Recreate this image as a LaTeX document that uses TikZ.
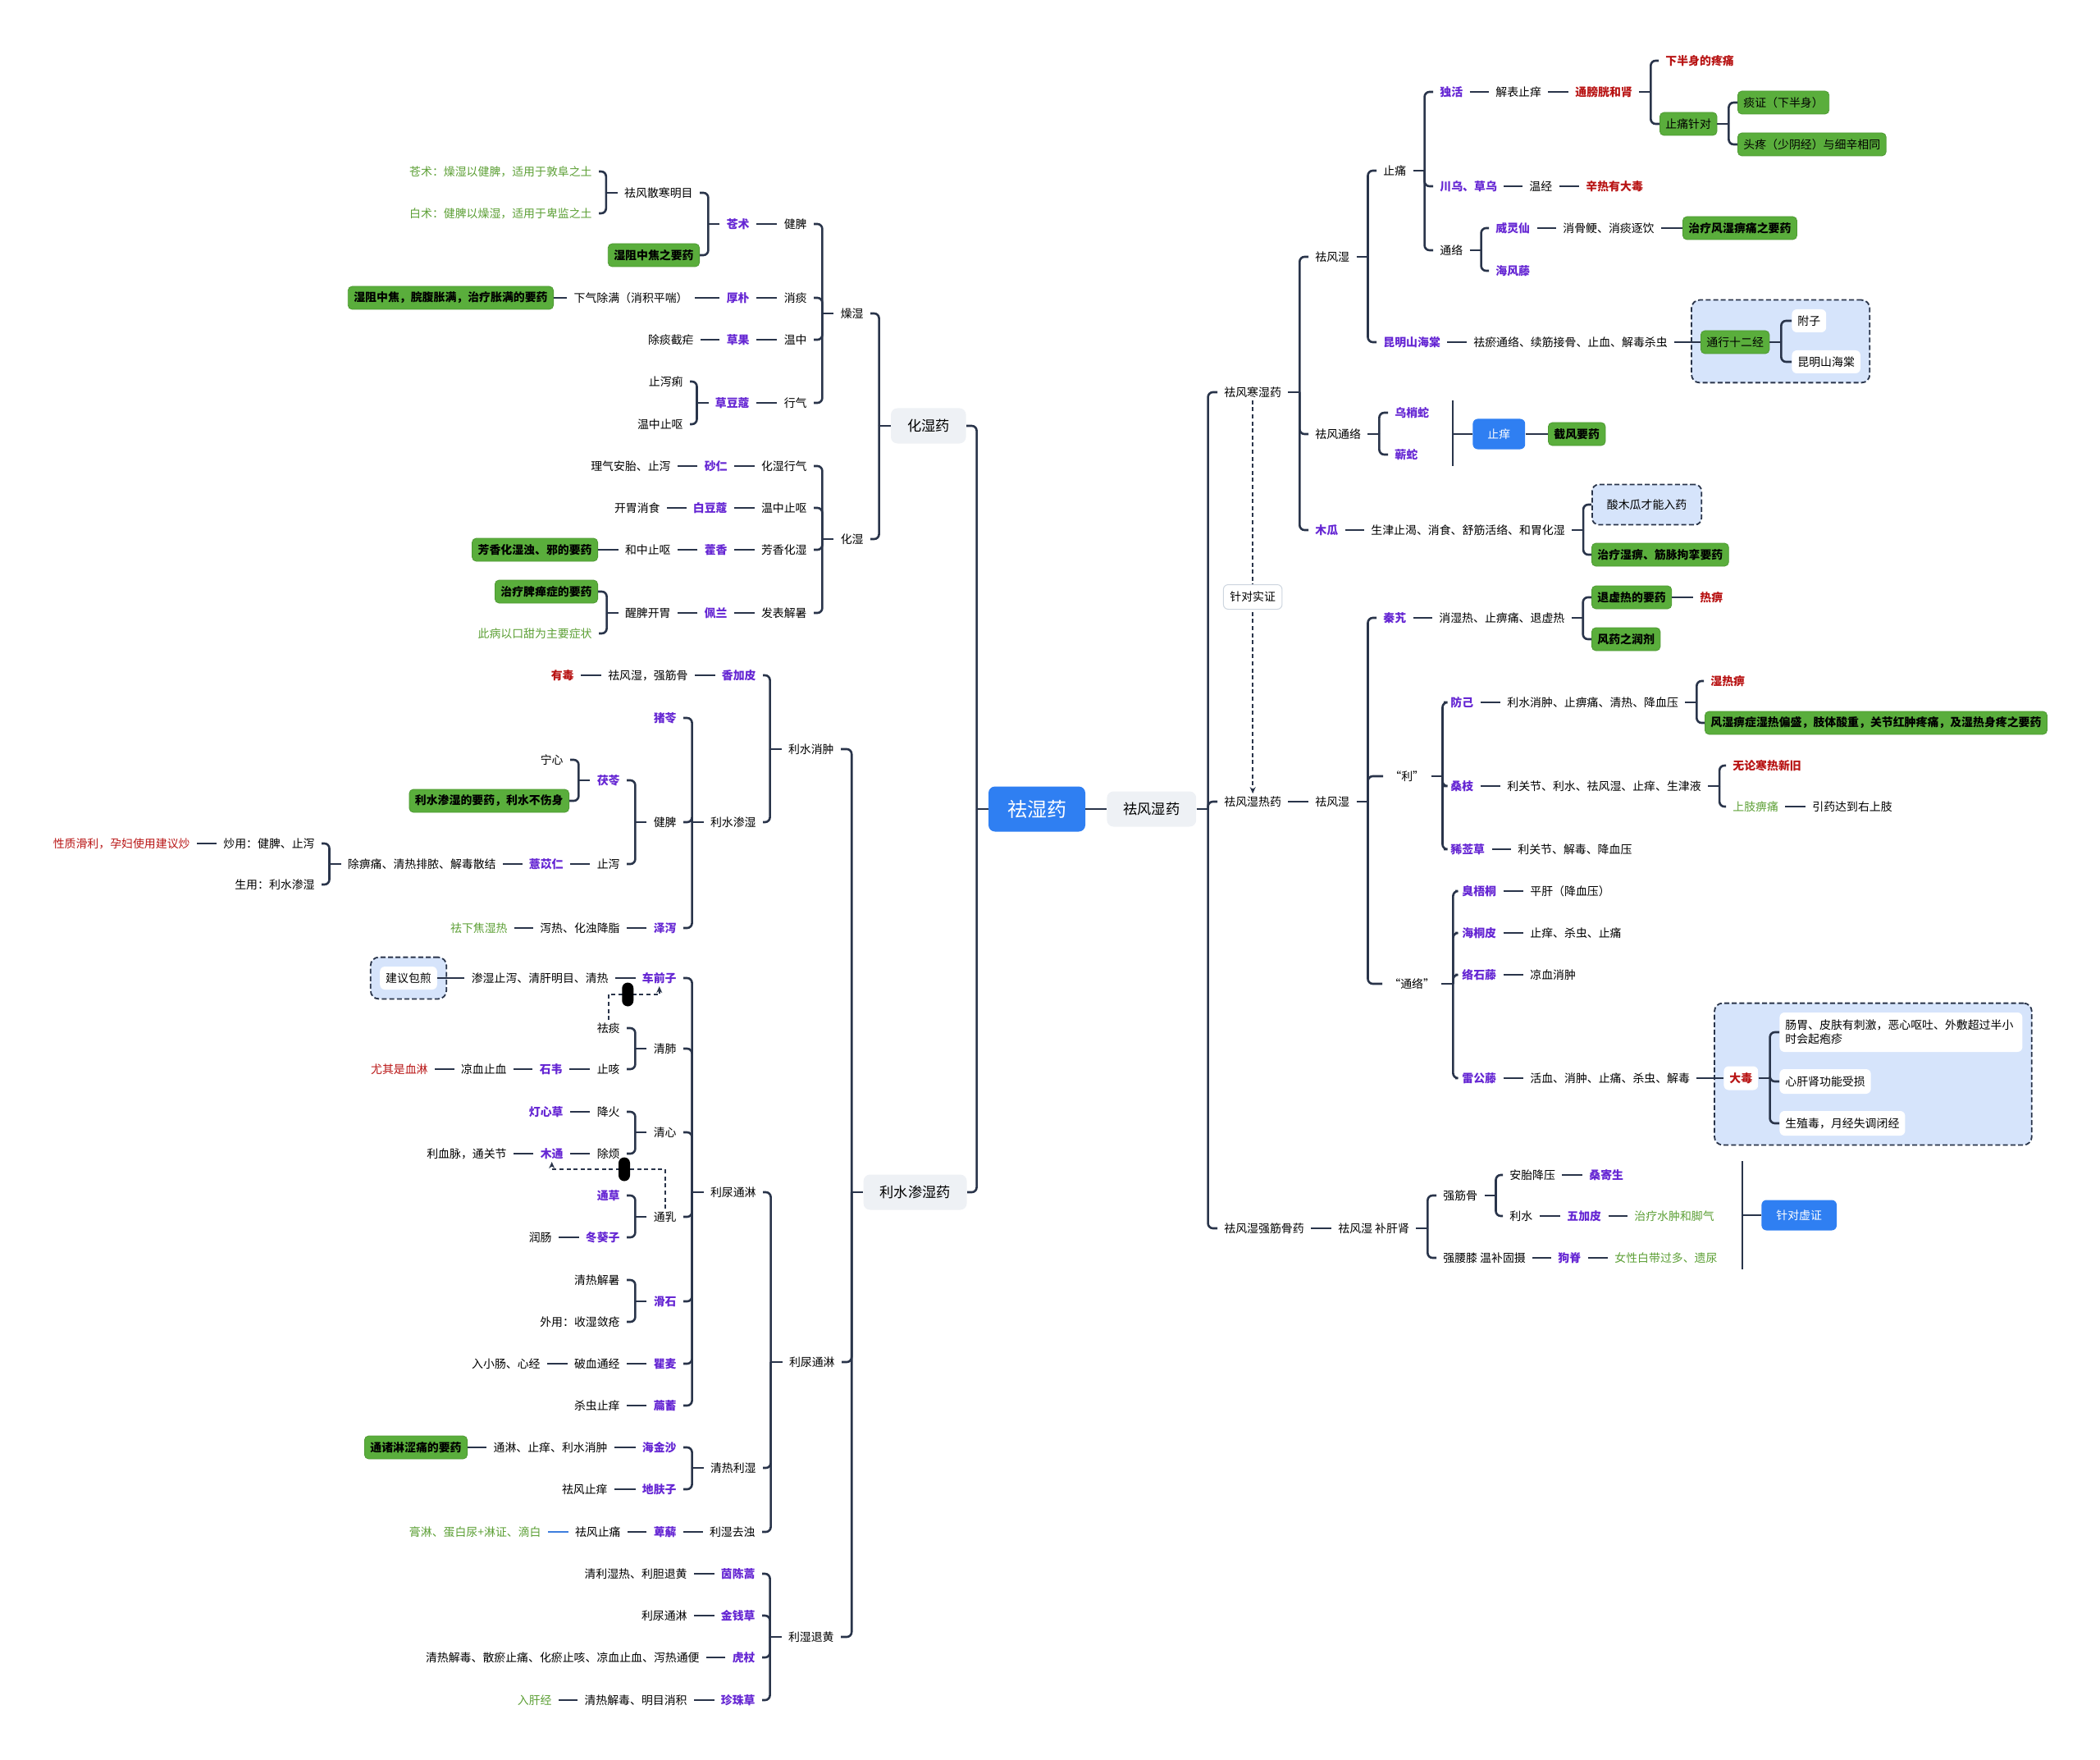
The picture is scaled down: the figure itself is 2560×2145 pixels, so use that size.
\documentclass[tikz,border=0pt]{standalone}
\usepackage{fontspec}
\setmainfont{Noto Sans CJK SC}
\usetikzlibrary{arrows.meta,fit,backgrounds}

\definecolor{linec}{HTML}{29344A}
\definecolor{drugc}{HTML}{6526D3}
\definecolor{warnc}{HTML}{B81414}
\definecolor{notec}{HTML}{5C9F35}
\definecolor{boxg}{HTML}{5AAE3C}
\definecolor{boxgd}{HTML}{4E9A33}
\definecolor{bluec}{HTML}{2F7FF2}
\definecolor{greyc}{HTML}{EEF1F5}
\definecolor{dfill}{HTML}{D6E4FB}
\definecolor{lblc}{HTML}{CDD5DF}
\definecolor{linkb}{HTML}{3D7EDE}

\newcommand{\fs}{\fontsize{6.95pt}{8.5pt}\selectfont}

\tikzset{
  every node/.style={font=\fs, inner xsep=4pt, inner ysep=1.5pt},
  lside/.style={anchor=east, xshift=4pt},
  rside/.style={anchor=west, xshift=-4pt},
  lbox/.style={anchor=east},
  rbox/.style={anchor=west},
  drug/.style={text=drugc, font=\fs\bfseries},
  warn/.style={text=warnc, font=\fs\bfseries},
  warnr/.style={text=warnc},
  note/.style={text=notec},
  gbox/.style={fill=boxg, draw=boxgd, line width=0.4pt, rounded corners=2.5pt, inner xsep=3.5pt, minimum height=14pt, font=\fs\bfseries},
  gboxn/.style={gbox, font=\fs},
  bbox/.style={fill=bluec, text=white, rounded corners=3pt, inner xsep=9pt, minimum height=18.5pt},
  greybox/.style={fill=greyc, rounded corners=4pt, inner xsep=10pt, minimum height=21.5pt, font=\fontsize{8.6pt}{10pt}\selectfont},
  rootbox/.style={fill=bluec, text=white, rounded corners=4pt, minimum width=59pt, minimum height=27.5pt, font=\fontsize{12pt}{14pt}\selectfont},
  wbox/.style={fill=white, rounded corners=3pt, inner xsep=3.5pt, minimum height=14pt},
  dnode/.style={fill=dfill, draw=linec, dash pattern=on 3pt off 1.6pt, line width=0.9pt, rounded corners=4pt, inner xsep=9pt, minimum height=24.5pt},
  dgroup/.style={fill=dfill, draw=linec, dash pattern=on 3pt off 1.6pt, line width=0.9pt, rounded corners=5pt, inner sep=5.5pt},
  lbl/.style={fill=white, draw=lblc, line width=0.5pt, rounded corners=3pt, minimum height=15pt, solid},
  pill/.style={fill=black, rounded corners=3.5pt, minimum width=7pt, minimum height=14.5pt, inner sep=0pt, solid},
  link/.style={draw=linec, line width=1.3pt},
  br/.style={link, rounded corners=3pt},
  rel/.style={draw=linec, line width=0.8pt, dash pattern=on 2.5pt off 1.8pt, -{Stealth[length=4pt,width=3.5pt]}},
}

\begin{document}
\begin{tikzpicture}[x=0.5pt,y=-0.5pt]
    \useasboundingbox (0,0) rectangle (2560,2145);

    % Root and main branches
    \node[rootbox] (qsy) at (1264,986) {祛湿药};
    \node[greybox, rbox] (qfsy) at (1349,986) {祛风湿药};
    \node[greybox, lbox] (hsy) at (1178,519) {化湿药};
    \node[greybox, lbox] (lsssy) at (1179,1453) {利水渗湿药};

    % Huashi: zaoshi
    \node[lside, note] (cz1) at (722,209) {苍术：燥湿以健脾，适用于敦阜之土};
    \node[lside, note] (bz1) at (722,260) {白术：健脾以燥湿，适用于卑监之土};
    \node[lside] (qfsh) at (845,235) {祛风散寒明目};
    \node[gbox, lbox] (szzj) at (853,311) {湿阻中焦之要药};
    \node[lside, drug] (cangzhu) at (914,273) {苍术};
    \node[lside] (jianpi1) at (984,273) {健脾};
    \node[lside] (xiaotan) at (984,363) {消痰};
    \node[lside, drug] (houpo) at (914,363) {厚朴};
    \node[lside] (xqcm) at (839,363) {下气除满（消积平喘）};
    \node[gbox, lbox] (szzj2) at (675,363) {湿阻中焦，脘腹胀满，治疗胀满的要药};
    \node[lside] (wenzhong) at (984,414) {温中};
    \node[lside, drug] (caoguo) at (914,414) {草果};
    \node[lside] (ctjn) at (846,414) {除痰截疟};
    \node[lside] (xingqi) at (984,491) {行气};
    \node[lside, drug] (cdk) at (914,491) {草豆蔻};
    \node[lside] (zxl) at (833,465) {止泻痢};
    \node[lside] (wzzo1) at (833,517) {温中止呕};
    \node[lside] (zaoshi) at (1053,382) {燥湿};

    % Huashi: huashi
    \node[lside] (hsxq) at (984,568) {化湿行气};
    \node[lside, drug] (sharen) at (887,568) {砂仁};
    \node[lside] (lqat) at (818,568) {理气安胎、止泻};
    \node[lside] (wzzo2) at (984,619) {温中止呕};
    \node[lside, drug] (bdk) at (887,619) {白豆蔻};
    \node[lside] (kwxs) at (805,619) {开胃消食};
    \node[lside] (fxhs) at (984,670) {芳香化湿};
    \node[lside, drug] (huoxiang) at (887,670) {藿香};
    \node[lside] (hzzo) at (818,670) {和中止呕};
    \node[gbox, lbox] (fxyy) at (729,670) {芳香化湿浊、邪的要药};
    \node[lside] (fbjs) at (984,747) {发表解暑};
    \node[lside, drug] (peilan) at (887,747) {佩兰};
    \node[lside] (xpkw) at (818,747) {醒脾开胃};
    \node[gbox, lbox] (zlpd) at (729,721) {治疗脾瘅症的要药};
    \node[lside, note] (cbyk) at (722,772) {此病以口甜为主要症状};
    \node[lside] (huashi) at (1053,657) {化湿};

    % Lishui: lishui xiaozhong
    \node[lside, warn] (youdu) at (700,823) {有毒};
    \node[lside] (qfsj) at (839,823) {祛风湿，强筋骨};
    \node[lside, drug] (xjp) at (922,823) {香加皮};
    \node[lside] (lsxz) at (1017,913) {利水消肿};
    \node[lside] (lssh) at (922,1002) {利水渗湿};
    \node[lside, drug] (zhuling) at (825,875) {猪苓};
    \node[lside] (jianpi2) at (825,1002) {健脾};
    \node[lside, drug] (zexie) at (825,1131) {泽泻};
    \node[lside] (xrhz) at (756,1131) {泻热、化浊降脂};
    \node[lside, note] (qxjs) at (619,1131) {祛下焦湿热};
    \node[lside, drug] (fuling) at (756,951) {茯苓};
    \node[lside] (zhixie) at (756,1053) {止泻};
    \node[lside] (ningxin) at (687,926) {宁心};
    \node[gbox, lbox] (lsys) at (694,976) {利水渗湿的要药，利水不伤身};
    \node[lside, drug] (yyr) at (687,1053) {薏苡仁};
    \node[lside] (cbt) at (605,1053) {除痹痛、清热排脓、解毒散结};
    \node[lside] (chaoyong) at (384,1028) {炒用：健脾、止泻};
    \node[lside] (shengyong) at (384,1078) {生用：利水渗湿};
    \node[lside, warnr] (xzhl) at (232,1028) {性质滑利，孕妇使用建议炒};

    % Lishui: liniao tonglin
    \node[wbox] (jybj) at (498,1192) {建议包煎};
    \node[lside] (sszx) at (742,1192) {渗湿止泻、清肝明目、清热};
    \node[lside, drug] (cqz) at (825,1192) {车前子};
    \node[lside] (qutan) at (756,1253) {祛痰};
    \node[lside] (zhike) at (756,1303) {止咳};
    \node[lside] (qingfei) at (825,1278) {清肺};
    \node[lside, drug] (shiwei) at (686,1303) {石韦};
    \node[lside] (lxzx) at (618,1303) {凉血止血};
    \node[lside, warnr] (yqsx) at (522,1303) {尤其是血淋};
    \node[lside] (jianghuo) at (756,1355) {降火};
    \node[lside, drug] (dxc) at (687,1355) {灯心草};
    \node[lside] (chufan) at (756,1406) {除烦};
    \node[lside, drug] (mutong) at (687,1406) {木通};
    \node[lside] (lxm) at (618,1406) {利血脉，通关节};
    \node[lside] (qingxin) at (825,1380) {清心};
    \node[lside, drug] (tongcao) at (756,1457) {通草};
    \node[lside, drug] (dkz) at (756,1508) {冬葵子};
    \node[lside] (runchang) at (673,1508) {润肠};
    \node[lside] (tongru) at (825,1483) {通乳};
    \node[lside] (ltl1) at (922,1453) {利尿通淋};
    \node[lside] (qrjs) at (756,1560) {清热解暑};
    \node[lside] (wysc) at (756,1611) {外用：收湿敛疮};
    \node[lside, drug] (huashi2) at (825,1586) {滑石};
    \node[lside, drug] (qumai) at (825,1662) {瞿麦};
    \node[lside] (pxtj) at (756,1662) {破血通经};
    \node[lside] (rxc) at (659,1662) {入小肠、心经};
    \node[lside, drug] (bianxu) at (825,1713) {萹蓄};
    \node[lside] (sczy) at (756,1713) {杀虫止痒};
    \node[lside, drug] (hjs) at (825,1764) {海金沙};
    \node[lside] (tlzy) at (741,1764) {通淋、止痒、利水消肿};
    \node[gbox, lbox] (tzlsy) at (570,1764) {通诸淋涩痛的要药};
    \node[lside, drug] (dfz) at (825,1815) {地肤子};
    \node[lside] (qfzy) at (741,1815) {祛风止痒};
    \node[lside] (qrls) at (922,1789) {清热利湿};
    \node[lside] (ltl2) at (1018,1660) {利尿通淋};
    \node[lside] (lsqz) at (921,1867) {利湿去浊};
    \node[lside, drug] (bixie) at (825,1867) {萆薢};
    \node[lside] (qfzt) at (757,1867) {祛风止痛};
    \node[lside, note] (glnb) at (660,1867) {膏淋、蛋白尿+淋证、滴白};

    % Lishui: lishi tuihuang
    \node[lside] (lstd) at (1017,1995) {利湿退黄};
    \node[lside, drug] (ycg) at (921,1918) {茵陈蒿};
    \node[lside] (qlsr) at (838,1918) {清利湿热、利胆退黄};
    \node[lside, drug] (jqc) at (921,1969) {金钱草};
    \node[lside] (ltl3) at (838,1969) {利尿通淋};
    \node[lside, drug] (huzhang) at (921,2020) {虎杖};
    \node[lside] (qrjd) at (853,2020) {清热解毒、散瘀止痛、化瘀止咳、凉血止血、泻热通便};
    \node[lside, drug] (zzc) at (921,2072) {珍珠草};
    \node[lside] (qrmm) at (838,2072) {清热解毒、明目消积};
    \node[lside, note] (rgj) at (673,2072) {入肝经};

    % Qufengshi: fenghan
    \node[rside] (qfhsy) at (1492,478) {祛风寒湿药};
    \node[rside] (qfs1) at (1603,313) {祛风湿};
    \node[rside] (zhitong) at (1686,208) {止痛};
    \node[rside, drug] (duhuo) at (1755,112) {独活};
    \node[rside] (jbzy) at (1823,112) {解表止痒};
    \node[rside, warn] (tpgh) at (1920,112) {通膀胱和肾};
    \node[rside, warn] (xbs) at (2030,74) {下半身的疼痛};
    \node[gboxn, rbox] (ztzd) at (2023,151) {止痛针对};
    \node[gboxn, rbox] (tzxbs) at (2118,125) {痰证（下半身）};
    \node[gboxn, rbox] (ttsy) at (2118,176) {头疼（少阴经）与细辛相同};
    \node[rside, drug] (cwcw) at (1755,227) {川乌、草乌};
    \node[rside] (wenjing) at (1864,227) {温经};
    \node[rside, warn] (xrydd) at (1933,227) {辛热有大毒};
    \node[rside] (tongluo1) at (1755,305) {通络};
    \node[rside, drug] (wlx) at (1823,278) {威灵仙};
    \node[rside] (xggy) at (1905,278) {消骨鲠、消痰逐饮};
    \node[gbox, rbox] (zlfs) at (2051,278) {治疗风湿痹痛之要药};
    \node[rside, drug] (hft) at (1823,330) {海风藤};
    \node[rside, drug] (kmsht) at (1686,417) {昆明山海棠};
    \node[rside] (qytl) at (1796,417) {祛瘀通络、续筋接骨、止血、解毒杀虫};
    \node[gboxn, rbox] (txsej) at (2073,417) {通行十二经};
    \node[wbox, rbox] (fuzi) at (2184,391) {附子};
    \node[wbox, rbox] (kmsht2) at (2184,441) {昆明山海棠};
    \node[rside] (qftl) at (1603,529) {祛风通络};
    \node[rside, drug] (wss) at (1700,503) {乌梢蛇};
    \node[rside, drug] (qishe) at (1700,554) {蕲蛇};
    \node[bbox, rbox] (zhiyang) at (1795,529) {止痒};
    \node[gbox, rbox] (jfyy) at (1887,529) {截风要药};
    \node[rside, drug] (mugua) at (1603,646) {木瓜};
    \node[rside] (sjzk) at (1671,646) {生津止渴、消食、舒筋活络、和胃化湿};
    \node[dnode, rbox] (smg) at (1940,615) {酸木瓜才能入药};
    \node[gbox, rbox] (zlsb) at (1940,676) {治疗湿痹、筋脉拘挛要药};

    % Qufengshi: shire
    \node[rside] (qfsry) at (1492,977) {祛风湿热药};
    \node[rside] (qfs2) at (1603,977) {祛风湿};
    \node[rside, drug] (qinjiao) at (1686,753) {秦艽};
    \node[rside] (xsr) at (1754,753) {消湿热、止痹痛、退虚热};
    \node[gbox, rbox] (txr) at (1940,728) {退虚热的要药};
    \node[rside, warn] (rebi) at (2072,728) {热痹};
    \node[gbox, rbox] (fyzr) at (1940,779) {风药之润剂};
    \node[rside] (li) at (1694,946) {“利”};
    \node[rside, drug] (fangji) at (1768,856) {防己};
    \node[rside] (lsxz2) at (1837,856) {利水消肿、止痹痛、清热、降血压};
    \node[rside, warn] (srb) at (2085,830) {湿热痹};
    \node[gbox, rbox] (fsbz) at (2078,881) {风湿痹症湿热偏盛，肢体酸重，关节红肿疼痛，及湿热身疼之要药};
    \node[rside, drug] (sangzhi) at (1768,958) {桑枝};
    \node[rside] (lgj) at (1837,958) {利关节、利水、祛风湿、止痒、生津液};
    \node[rside, warn] (wlhr) at (2112,933) {无论寒热新旧};
    \node[rside, note] (szbt) at (2112,983) {上肢痹痛};
    \node[rside] (yydd) at (2209,983) {引药达到右上肢};
    \node[rside, drug] (xxc) at (1768,1035) {豨莶草};
    \node[rside] (lgj2) at (1850,1035) {利关节、解毒、降血压};
    \node[rside] (tongluo2) at (1693,1199) {“通络”};
    \node[rside, drug] (cwt) at (1782,1086) {臭梧桐};
    \node[rside] (pg) at (1865,1086) {平肝（降血压）};
    \node[rside, drug] (htp) at (1782,1137) {海桐皮};
    \node[rside] (zysc) at (1865,1137) {止痒、杀虫、止痛};
    \node[rside, drug] (lst) at (1782,1188) {络石藤};
    \node[rside] (lxxz) at (1865,1188) {凉血消肿};
    \node[rside, drug] (lgt) at (1782,1314) {雷公藤};
    \node[rside] (hxxz) at (1865,1314) {活血、消肿、止痛、杀虫、解毒};
    \node[wbox, rbox, warn, minimum height=14.5pt] (dadu) at (2101,1314) {大毒};
    \node[wbox, rbox, text width=141pt, align=left, minimum height=24pt] (cwpf) at (2169,1258) {肠胃、皮肤有刺激，恶心呕吐、外敷超过半小\\时会起疱疹};
    \node[wbox, rbox, minimum height=15pt] (cgs) at (2169,1318) {心肝肾功能受损};
    \node[wbox, rbox, minimum height=15pt] (szd) at (2169,1369) {生殖毒，月经失调闭经};

    % Qufengshi: qiang jingu
    \node[rside] (qfsq) at (1492,1497) {祛风湿强筋骨药};
    \node[rside] (qfbg) at (1631,1497) {祛风湿 补肝肾};
    \node[rside] (qjg) at (1759,1457) {强筋骨};
    \node[rside] (atjy) at (1840,1432) {安胎降压};
    \node[rside, drug] (sjs) at (1937,1432) {桑寄生};
    \node[rside] (lishui) at (1840,1482) {利水};
    \node[rside, drug] (wjp) at (1910,1482) {五加皮};
    \node[rside, note] (zlsz) at (1992,1482) {治疗水肿和脚气};
    \node[rside] (qyx) at (1759,1533) {强腰膝 温补固摄};
    \node[rside, drug] (gouji) at (1899,1533) {狗脊};
    \node[rside, note] (nxbd) at (1968,1533) {女性白带过多、遗尿};
    \node[bbox, rbox] (zdxz) at (2147,1481) {针对虚证};

    % Dashed groups
    \begin{scope}[on background layer]
        \node[dgroup, fit=(txsej)(fuzi)(kmsht2)] (grp1) {};
        \node[dgroup, fit=(dadu)(cwpf)(cgs)(szd)] (grp2) {};
        \node[dgroup, fit=(jybj)] (grp3) {};
    \end{scope}

    % Root connectors
    \draw[link] (qsy.east) -- (qfsy.west);
    \draw[link] (qsy.west) -- ++(-7pt,0);
    \foreach \c in {hsy,lsssy} \draw[br] ([xshift=-7pt]qsy.west) |- (\c.east);

    % Left branch: huashi yao
    \draw[link] (hsy.west) -- ++(-7pt,0);
    \foreach \c in {zaoshi,huashi} \draw[br] ([xshift=-7pt]hsy.west) |- (\c.east);
    \draw[link] (zaoshi.west) -- ++(-7pt,0);
    \foreach \c in {jianpi1,xiaotan,wenzhong,xingqi} \draw[br] ([xshift=-7pt]zaoshi.west) |- (\c.east);
    \draw[link] (jianpi1.west) -- (cangzhu.east);
    \draw[link] (cangzhu.west) -- ++(-7pt,0);
    \foreach \c in {qfsh,szzj} \draw[br] ([xshift=-7pt]cangzhu.west) |- (\c.east);
    \draw[link] (qfsh.west) -- ++(-7pt,0);
    \foreach \c in {cz1,bz1} \draw[br] ([xshift=-7pt]qfsh.west) |- (\c.east);
    \draw[link] (xiaotan.west) -- (houpo.east);
    \draw[link] (houpo.west) -- (xqcm.east);
    \draw[link] (xqcm.west) -- (szzj2.east);
    \draw[link] (wenzhong.west) -- (caoguo.east);
    \draw[link] (caoguo.west) -- (ctjn.east);
    \draw[link] (xingqi.west) -- (cdk.east);
    \draw[link] (cdk.west) -- ++(-7pt,0);
    \foreach \c in {zxl,wzzo1} \draw[br] ([xshift=-7pt]cdk.west) |- (\c.east);
    \draw[link] (huashi.west) -- ++(-7pt,0);
    \foreach \c in {hsxq,wzzo2,fxhs,fbjs} \draw[br] ([xshift=-7pt]huashi.west) |- (\c.east);
    \draw[link] (hsxq.west) -- (sharen.east);
    \draw[link] (sharen.west) -- (lqat.east);
    \draw[link] (wzzo2.west) -- (bdk.east);
    \draw[link] (bdk.west) -- (kwxs.east);
    \draw[link] (fxhs.west) -- (huoxiang.east);
    \draw[link] (huoxiang.west) -- (hzzo.east);
    \draw[link] (hzzo.west) -- (fxyy.east);
    \draw[link] (fbjs.west) -- (peilan.east);
    \draw[link] (peilan.west) -- (xpkw.east);
    \draw[link] (xpkw.west) -- ++(-7pt,0);
    \foreach \c in {zlpd,cbyk} \draw[br] ([xshift=-7pt]xpkw.west) |- (\c.east);

    % Left branch: lishui shenshi yao
    \draw[link] (lsssy.west) -- ++(-7pt,0);
    \foreach \c in {lsxz,ltl2,lstd} \draw[br] ([xshift=-7pt]lsssy.west) |- (\c.east);
    \draw[link] (lsxz.west) -- ++(-7pt,0);
    \foreach \c in {xjp,lssh} \draw[br] ([xshift=-7pt]lsxz.west) |- (\c.east);
    \draw[link] (xjp.west) -- (qfsj.east);
    \draw[link] (qfsj.west) -- (youdu.east);
    \draw[link] (lssh.west) -- ++(-7pt,0);
    \foreach \c in {zhuling,jianpi2,zexie} \draw[br] ([xshift=-7pt]lssh.west) |- (\c.east);
    \draw[link] (jianpi2.west) -- ++(-7pt,0);
    \foreach \c in {fuling,zhixie} \draw[br] ([xshift=-7pt]jianpi2.west) |- (\c.east);
    \draw[link] (fuling.west) -- ++(-7pt,0);
    \foreach \c in {ningxin,lsys} \draw[br] ([xshift=-7pt]fuling.west) |- (\c.east);
    \draw[link] (zhixie.west) -- (yyr.east);
    \draw[link] (yyr.west) -- (cbt.east);
    \draw[link] (cbt.west) -- ++(-7pt,0);
    \foreach \c in {chaoyong,shengyong} \draw[br] ([xshift=-7pt]cbt.west) |- (\c.east);
    \draw[link] (chaoyong.west) -- (xzhl.east);
    \draw[link] (zexie.west) -- (xrhz.east);
    \draw[link] (xrhz.west) -- (qxjs.east);

    \draw[link] (ltl2.west) -- ++(-7pt,0);
    \foreach \c in {ltl1,qrls,lsqz} \draw[br] ([xshift=-7pt]ltl2.west) |- (\c.east);
    \draw[link] (ltl1.west) -- ++(-7pt,0);
    \foreach \c in {cqz,qingfei,qingxin,tongru,huashi2,qumai,bianxu} \draw[br] ([xshift=-7pt]ltl1.west) |- (\c.east);
    \draw[link] (cqz.west) -- (sszx.east);
    \draw[link] (sszx.west) -- (jybj.east);
    \draw[link] (qingfei.west) -- ++(-7pt,0);
    \foreach \c in {qutan,zhike} \draw[br] ([xshift=-7pt]qingfei.west) |- (\c.east);
    \draw[link] (zhike.west) -- (shiwei.east);
    \draw[link] (shiwei.west) -- (lxzx.east);
    \draw[link] (lxzx.west) -- (yqsx.east);
    \draw[link] (qingxin.west) -- ++(-7pt,0);
    \foreach \c in {jianghuo,chufan} \draw[br] ([xshift=-7pt]qingxin.west) |- (\c.east);
    \draw[link] (jianghuo.west) -- (dxc.east);
    \draw[link] (chufan.west) -- (mutong.east);
    \draw[link] (mutong.west) -- (lxm.east);
    \draw[link] (tongru.west) -- ++(-7pt,0);
    \foreach \c in {tongcao,dkz} \draw[br] ([xshift=-7pt]tongru.west) |- (\c.east);
    \draw[link] (dkz.west) -- (runchang.east);
    \draw[link] (huashi2.west) -- ++(-7pt,0);
    \foreach \c in {qrjs,wysc} \draw[br] ([xshift=-7pt]huashi2.west) |- (\c.east);
    \draw[link] (qumai.west) -- (pxtj.east);
    \draw[link] (pxtj.west) -- (rxc.east);
    \draw[link] (bianxu.west) -- (sczy.east);
    \draw[link] (qrls.west) -- ++(-7pt,0);
    \foreach \c in {hjs,dfz} \draw[br] ([xshift=-7pt]qrls.west) |- (\c.east);
    \draw[link] (hjs.west) -- (tlzy.east);
    \draw[link] (tlzy.west) -- (tzlsy.east);
    \draw[link] (dfz.west) -- (qfzy.east);
    \draw[link] (lsqz.west) -- (bixie.east);
    \draw[link] (bixie.west) -- (qfzt.east);
    \draw[link, draw=linkb] (qfzt.west) -- (glnb.east);

    \draw[link] (lstd.west) -- ++(-7pt,0);
    \foreach \c in {ycg,jqc,huzhang,zzc} \draw[br] ([xshift=-7pt]lstd.west) |- (\c.east);
    \draw[link] (ycg.west) -- (qlsr.east);
    \draw[link] (jqc.west) -- (ltl3.east);
    \draw[link] (huzhang.west) -- (qrjd.east);
    \draw[link] (zzc.west) -- (qrmm.east);
    \draw[link] (qrmm.west) -- (rgj.east);

    % Related links on the left
    \coordinate (r1) at (0,1212);
    \coordinate (r2) at (0,1425);
    \draw[rel] (qutan.north) |- node[pill, pos=0.69] (tag1) {} (cqz.south |- r1) -- (cqz.south);
    \draw[rel] (tongru.north) |- node[pill, pos=0.68] (tag2) {} (mutong.south |- r2) -- (mutong.south);

    % Right branch: qufengshi yao
    \draw[link] (qfsy.east) -- ++(7pt,0);
    \foreach \c in {qfhsy,qfsry,qfsq} \draw[br] ([xshift=7pt]qfsy.east) |- (\c.west);
    \draw[rel] (qfhsy.south) -- node[lbl] (zdsz) {针对实证} (qfsry.north);

    \draw[link] (qfhsy.east) -- ++(7pt,0);
    \foreach \c in {qfs1,qftl,mugua} \draw[br] ([xshift=7pt]qfhsy.east) |- (\c.west);
    \draw[link] (qfs1.east) -- ++(7pt,0);
    \foreach \c in {zhitong,kmsht} \draw[br] ([xshift=7pt]qfs1.east) |- (\c.west);
    \draw[link] (zhitong.east) -- ++(7pt,0);
    \foreach \c in {duhuo,cwcw,tongluo1} \draw[br] ([xshift=7pt]zhitong.east) |- (\c.west);
    \draw[link] (duhuo.east) -- (jbzy.west);
    \draw[link] (jbzy.east) -- (tpgh.west);
    \draw[link] (tpgh.east) -- ++(7pt,0);
    \foreach \c in {xbs,ztzd} \draw[br] ([xshift=7pt]tpgh.east) |- (\c.west);
    \draw[link] (ztzd.east) -- ++(7pt,0);
    \foreach \c in {tzxbs,ttsy} \draw[br] ([xshift=7pt]ztzd.east) |- (\c.west);
    \draw[link] (cwcw.east) -- (wenjing.west);
    \draw[link] (wenjing.east) -- (xrydd.west);
    \draw[link] (tongluo1.east) -- ++(7pt,0);
    \foreach \c in {wlx,hft} \draw[br] ([xshift=7pt]tongluo1.east) |- (\c.west);
    \draw[link] (wlx.east) -- (xggy.west);
    \draw[link] (xggy.east) -- (zlfs.west);
    \draw[link] (kmsht.east) -- (qytl.west);
    \draw[link] (qytl.east) -- (txsej.west);
    \draw[link] (txsej.east) -- ++(7pt,0);
    \foreach \c in {fuzi,kmsht2} \draw[br] ([xshift=7pt]txsej.east) |- (\c.west);
    \draw[link] (qftl.east) -- ++(7pt,0);
    \foreach \c in {wss,qishe} \draw[br] ([xshift=7pt]qftl.east) |- (\c.west);
    \coordinate (sb1) at (1771,488);
    \coordinate (sb2) at (1771,568);
    \draw[link] (sb1) -- (sb2);
    \draw[link] (sb1 |- zhiyang.west) -- (zhiyang.west);
    \draw[link] (zhiyang.east) -- (jfyy.west);
    \draw[link] (mugua.east) -- (sjzk.west);
    \draw[link] (sjzk.east) -- ++(7pt,0);
    \foreach \c in {smg,zlsb} \draw[br] ([xshift=7pt]sjzk.east) |- (\c.west);

    \draw[link] (qfsry.east) -- (qfs2.west);
    \draw[link] (qfs2.east) -- ++(7pt,0);
    \foreach \c in {qinjiao,li,tongluo2} \draw[br] ([xshift=7pt]qfs2.east) |- (\c.west);
    \draw[link] (qinjiao.east) -- (xsr.west);
    \draw[link] (xsr.east) -- ++(7pt,0);
    \foreach \c in {txr,fyzr} \draw[br] ([xshift=7pt]xsr.east) |- (\c.west);
    \draw[link] (txr.east) -- (rebi.west);
    \draw[link] (li.east) -- ++(7pt,0);
    \foreach \c in {fangji,sangzhi,xxc} \draw[br] ([xshift=7pt]li.east) |- (\c.west);
    \draw[link] (fangji.east) -- (lsxz2.west);
    \draw[link] (lsxz2.east) -- ++(7pt,0);
    \foreach \c in {srb,fsbz} \draw[br] ([xshift=7pt]lsxz2.east) |- (\c.west);
    \draw[link] (sangzhi.east) -- (lgj.west);
    \draw[link] (lgj.east) -- ++(7pt,0);
    \foreach \c in {wlhr,szbt} \draw[br] ([xshift=7pt]lgj.east) |- (\c.west);
    \draw[link] (szbt.east) -- (yydd.west);
    \draw[link] (xxc.east) -- (lgj2.west);
    \draw[link] (tongluo2.east) -- ++(7pt,0);
    \foreach \c in {cwt,htp,lst,lgt} \draw[br] ([xshift=7pt]tongluo2.east) |- (\c.west);
    \draw[link] (cwt.east) -- (pg.west);
    \draw[link] (htp.east) -- (zysc.west);
    \draw[link] (lst.east) -- (lxxz.west);
    \draw[link] (lgt.east) -- (hxxz.west);
    \draw[link] (hxxz.east) -- (dadu.west);
    \draw[link] (dadu.east) -- ++(7pt,0);
    \foreach \c in {cwpf,cgs,szd} \draw[br] ([xshift=7pt]dadu.east) |- (\c.west);

    \draw[link] (qfsq.east) -- (qfbg.west);
    \draw[link] (qfbg.east) -- ++(7pt,0);
    \foreach \c in {qjg,qyx} \draw[br] ([xshift=7pt]qfbg.east) |- (\c.west);
    \draw[link] (qjg.east) -- ++(7pt,0);
    \foreach \c in {atjy,lishui} \draw[br] ([xshift=7pt]qjg.east) |- (\c.west);
    \draw[link] (atjy.east) -- (sjs.west);
    \draw[link] (lishui.east) -- (wjp.west);
    \draw[link] (wjp.east) -- (zlsz.west);
    \draw[link] (qyx.east) -- (gouji.west);
    \draw[link] (gouji.east) -- (nxbd.west);
    \coordinate (sb3) at (2124,1415);
    \coordinate (sb4) at (2124,1547);
    \draw[link] (sb3) -- (sb4);
    \draw[link] (sb3 |- zdxz.west) -- (zdxz.west);
\end{tikzpicture}
\end{document}
